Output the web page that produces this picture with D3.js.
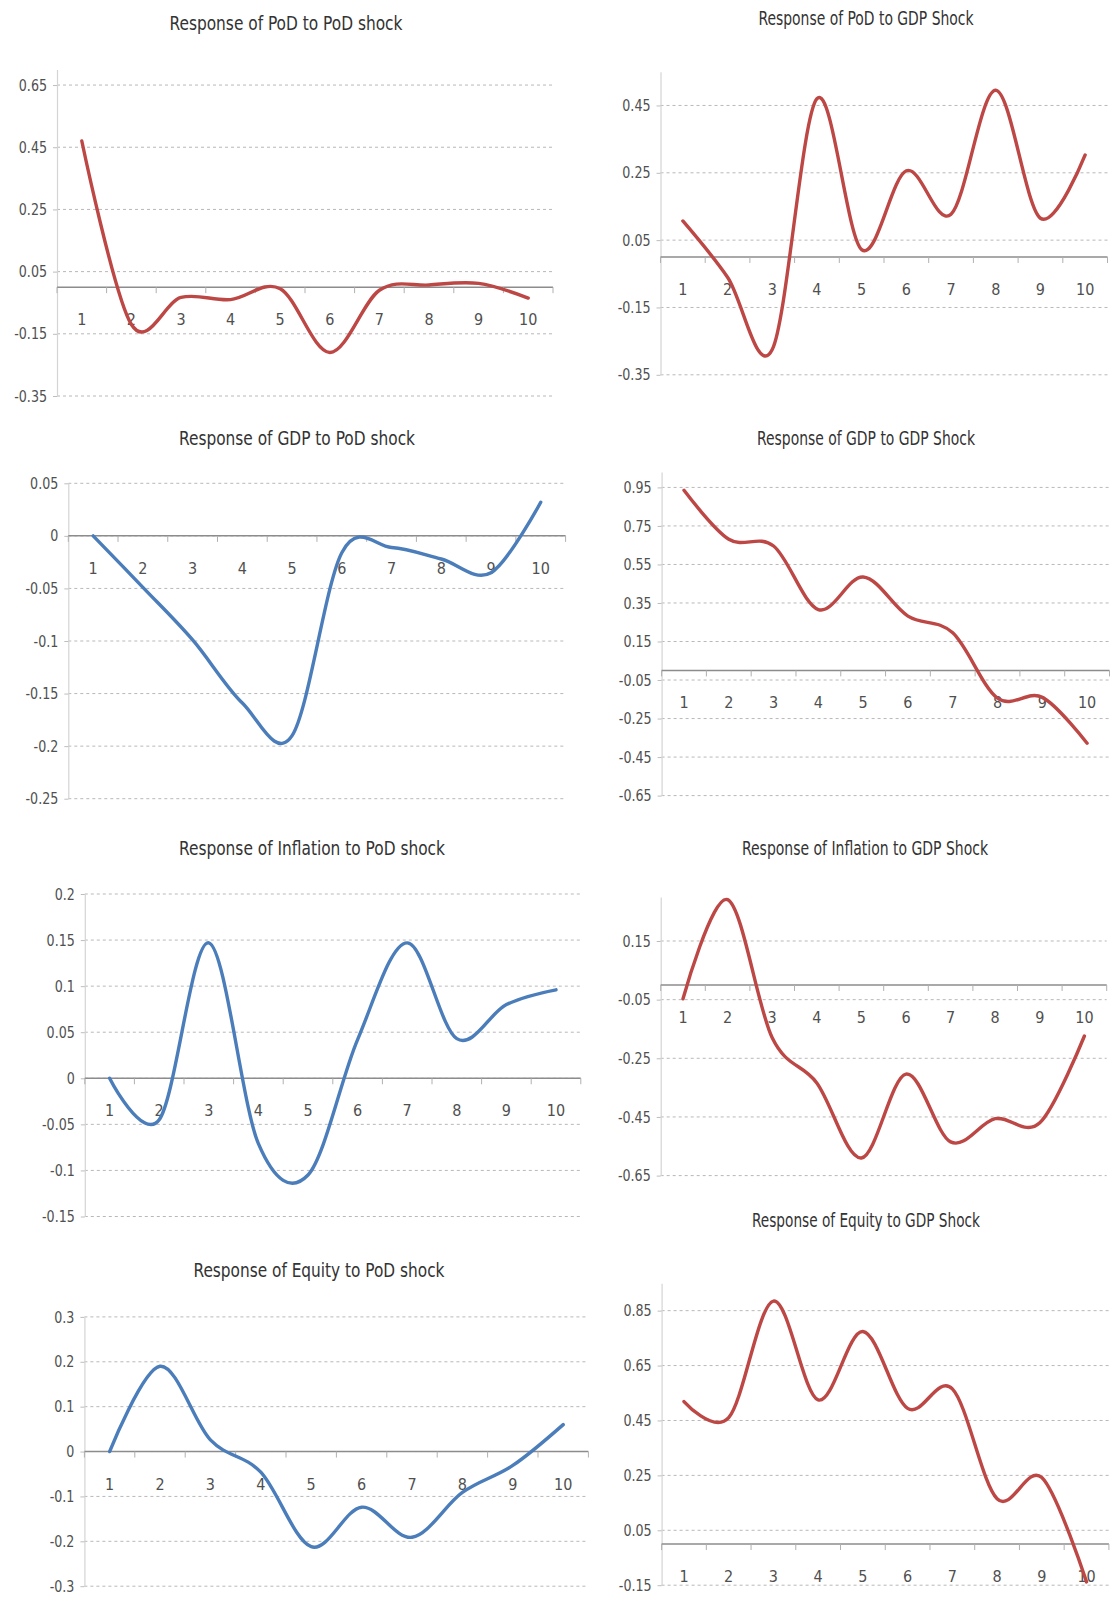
<!DOCTYPE html>
<html>
<head>
<meta charset="utf-8">
<script src="https://cdn.jsdelivr.net/npm/d3@7"></script>
<style>
  html, body { margin: 0; padding: 0; background: #ffffff; }
  svg { display: block; }
  text { font-family: "Liberation Sans Narrow", "DejaVu Sans Condensed", "Arial Narrow", sans-serif; }
</style>
</head>
<body>
<svg id="chart" width="1112" height="1606"></svg>
<script>
// Forecast horizon (periods after the shock)
const periods = [1, 2, 3, 4, 5, 6, 7, 8, 9, 10];

// Impulse responses, one array per panel
const podToPod       = [0.47, -0.12, -0.033, -0.04, -0.005, -0.21, -0.01, 0.007, 0.012, -0.035];
const podToGdp       = [0.107, -0.06, -0.275, 0.47, 0.022, 0.256, 0.127, 0.495, 0.115, 0.303];
const gdpToPod       = [0, -0.049, -0.099, -0.159, -0.19, -0.016, -0.011, -0.022, -0.035, 0.032];
const gdpToGdp       = [0.935, 0.681, 0.646, 0.316, 0.485, 0.282, 0.195, -0.144, -0.14, -0.378];
const inflationToPod = [0, -0.045, 0.147, -0.071, -0.105, 0.042, 0.147, 0.043, 0.08, 0.096];
const inflationToGdp = [-0.047, 0.291, -0.18, -0.334, -0.59, -0.304, -0.535, -0.456, -0.47, -0.174];
const equityToPod    = [0, 0.19, 0.026, -0.046, -0.212, -0.124, -0.191, -0.091, -0.031, 0.06];
const equityToGdp    = [0.519, 0.46, 0.885, 0.525, 0.774, 0.494, 0.565, 0.165, 0.242, -0.138];

// Value-axis tick labels for each panel
const ticksPodToPod       = [0.65, 0.45, 0.25, 0.05, -0.15, -0.35];
const ticksPodToGdp       = [0.45, 0.25, 0.05, -0.15, -0.35];
const ticksGdpToPod       = [0.05, 0, -0.05, -0.1, -0.15, -0.2, -0.25];
const ticksGdpToGdp       = [0.95, 0.75, 0.55, 0.35, 0.15, -0.05, -0.25, -0.45, -0.65];
const ticksInflationToPod = [0.2, 0.15, 0.1, 0.05, 0, -0.05, -0.1, -0.15];
const ticksInflationToGdp = [0.15, -0.05, -0.25, -0.45, -0.65];
const ticksEquityToPod    = [0.3, 0.2, 0.1, 0, -0.1, -0.2, -0.3];
const ticksEquityToGdp    = [0.85, 0.65, 0.45, 0.25, 0.05, -0.15];

// Panel titles
const titles = [
  "Response of PoD to PoD shock",
  "Response of PoD to GDP Shock",
  "Response of GDP to PoD shock",
  "Response of GDP to GDP Shock",
  "Response of Inflation to PoD shock",
  "Response of Inflation to GDP Shock",
  "Response of Equity to PoD shock",
  "Response of Equity to GDP Shock"
];

const RED = "#bc4744";
const BLUE = "#4a7dba";

// Panel placement: plot box in pixels, value-axis extent, title position
const panels = [
  { title: titles[0], values: podToPod, ticks: ticksPodToPod, color: RED,
    domain: [-0.35, 0.70], x0: 57, x1: 553, yLo: 396, yHi: 69.5, tx: 286, ty: 23, tw: 233 },
  { title: titles[1], values: podToGdp, ticks: ticksPodToGdp, color: RED,
    domain: [-0.35, 0.55], x0: 660.5, x1: 1107.5, yLo: 374.8, yHi: 71.8, tx: 866, ty: 18, tw: 215 },
  { title: titles[2], values: gdpToPod, ticks: ticksGdpToPod, color: BLUE,
    domain: [-0.25, 0.05], x0: 68.3, x1: 565.6, yLo: 798.7, yHi: 483.3, tx: 297, ty: 438, tw: 236 },
  { title: titles[3], values: gdpToGdp, ticks: ticksGdpToGdp, color: RED,
    domain: [-0.65, 1.03], x0: 661.6, x1: 1109.5, yLo: 795.6, yHi: 472, tx: 866, ty: 438, tw: 218 },
  { title: titles[4], values: inflationToPod, ticks: ticksInflationToPod, color: BLUE,
    domain: [-0.15, 0.2], x0: 84.8, x1: 580.8, yLo: 1216.5, yHi: 894, tx: 312, ty: 848, tw: 266 },
  { title: titles[5], values: inflationToGdp, ticks: ticksInflationToGdp, color: RED,
    domain: [-0.65, 0.3], x0: 660.7, x1: 1106.7, yLo: 1175.6, yHi: 897, tx: 865, ty: 848, tw: 246 },
  { title: titles[6], values: equityToPod, ticks: ticksEquityToPod, color: BLUE,
    domain: [-0.3, 0.3], x0: 84.4, x1: 588.4, yLo: 1586.2, yHi: 1316.9, tx: 319, ty: 1270, tw: 251 },
  { title: titles[7], values: equityToGdp, ticks: ticksEquityToGdp, color: RED,
    domain: [-0.15, 0.95], x0: 661.6, x1: 1108.9, yLo: 1585.2, yHi: 1283.2, tx: 866, ty: 1220, tw: 228 }
];

const svg = d3.select("#chart");
const fmt = v => String(v);   // keeps the plain hyphen-minus

panels.forEach(p => {
  const g = svg.append("g");

  const x = d3.scaleBand().domain(periods).range([p.x0, p.x1]).padding(0);
  const cx = d => x(d) + x.bandwidth() / 2;
  const y = d3.scaleLinear().domain(p.domain).range([p.yLo, p.yHi]);

  // dashed horizontal gridlines
  g.append("g").selectAll("line").data(p.ticks).join("line")
    .attr("x1", p.x0).attr("x2", p.x1)
    .attr("y1", d => y(d)).attr("y2", d => y(d))
    .attr("stroke", "#b8b8b8").attr("stroke-width", 1)
    .attr("stroke-dasharray", "3,3");

  // value axis
  const ay = g.append("g")
    .attr("transform", `translate(${p.x0},0)`)
    .call(d3.axisLeft(y).tickValues(p.ticks).tickFormat(fmt).tickSize(4).tickSizeOuter(0).tickPadding(6));
  ay.select(".domain").attr("stroke", "#d4d4d4").attr("stroke-width", 1.2);
  ay.selectAll(".tick line").attr("stroke", "#bdbdbd");
  ay.selectAll(".tick text")
    .attr("fill", "#505050").attr("font-size", 16)
    .attr("font-family", "'Liberation Sans Narrow', 'DejaVu Sans Condensed', sans-serif")
    .attr("textLength", function () { return this.getComputedTextLength() * 0.88; })
    .attr("lengthAdjust", "spacingAndGlyphs");

  // category axis crossing at zero
  const y0 = y(0);
  g.append("line")
    .attr("x1", p.x0).attr("x2", p.x1).attr("y1", y0).attr("y2", y0)
    .attr("stroke", "#8c8c8c").attr("stroke-width", 1.5);

  const edges = periods.map(d => x(d)).concat([p.x1]);
  g.append("g").selectAll("line").data(edges).join("line")
    .attr("x1", d => d).attr("x2", d => d)
    .attr("y1", y0).attr("y2", y0 + 6)
    .attr("stroke", "#b0b0b0").attr("stroke-width", 1);

  g.append("g").selectAll("text").data(periods).join("text")
    .attr("x", d => cx(d)).attr("y", y0 + 38)
    .attr("text-anchor", "middle")
    .attr("font-size", 16).attr("fill", "#505050")
    .text(d => d);

  // smoothed response line
  const line = d3.line()
    .x((v, i) => cx(periods[i]))
    .y(v => y(v))
    .curve(d3.curveCardinal.tension(0));
  g.append("path")
    .datum(p.values)
    .attr("d", line)
    .attr("fill", "none")
    .attr("stroke", p.color)
    .attr("stroke-width", 3.4)
    .attr("stroke-linejoin", "round")
    .attr("stroke-linecap", "round");

  // title
  g.append("text")
    .attr("x", p.tx).attr("y", p.ty + 7)
    .attr("text-anchor", "middle")
    .attr("font-size", 20).attr("fill", "#333333")
    .attr("textLength", p.tw).attr("lengthAdjust", "spacingAndGlyphs")
    .text(p.title);
});
</script>
</body>
</html>
